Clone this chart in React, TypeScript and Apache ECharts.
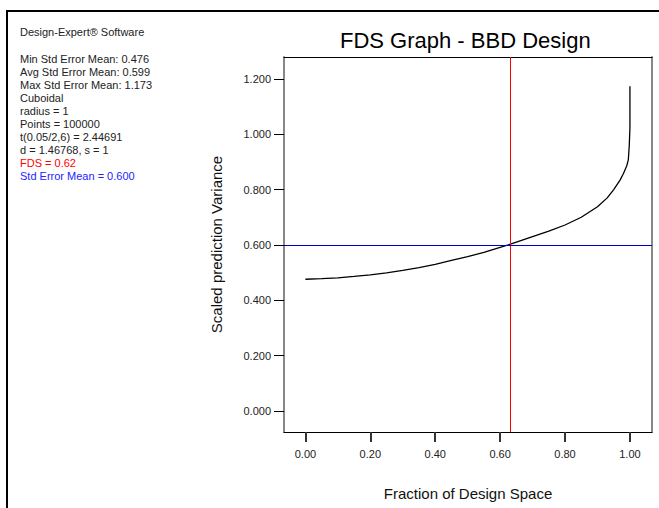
import React, { useEffect, useRef } from "react";
import * as echarts from "echarts";

const FONT = "'Liberation Sans', Arial, sans-serif";

const titleText = "FDS Graph - BBD Design";
const xAxisName = "Fraction of Design Space";
const yAxisName = "Scaled prediction Variance";

const xTicks = [0, 0.2, 0.4, 0.6, 0.8, 1.0];
const yTicks = [0, 0.2, 0.4, 0.6, 0.8, 1.0, 1.2];

const fractionValues = [
  0, 0.05, 0.1, 0.15, 0.2, 0.25, 0.3, 0.35, 0.4, 0.45, 0.5, 0.55, 0.6, 0.625,
  0.65, 0.7, 0.75, 0.8, 0.85, 0.9, 0.93, 0.95, 0.97, 0.98, 0.99, 0.995, 0.998,
  1.0, 1.0,
];
const varianceValues = [
  0.476, 0.478, 0.481, 0.486, 0.492, 0.499, 0.508, 0.518, 0.53, 0.544, 0.558,
  0.573, 0.591, 0.6, 0.61, 0.63, 0.65, 0.672, 0.7, 0.738, 0.77, 0.8, 0.835,
  0.858, 0.885, 0.907, 0.96, 1.023, 1.173,
];

const fdsValue = 0.625;
const stdErrorMean = 0.6;

const infoLines = [
  { text: "Design-Expert® Software", color: "#222222", gapBefore: 0 },
  { text: "Min Std Error Mean: 0.476", color: "#222222", gapBefore: 1 },
  { text: "Avg Std Error Mean: 0.599", color: "#222222", gapBefore: 0 },
  { text: "Max Std Error Mean: 1.173", color: "#222222", gapBefore: 0 },
  { text: "Cuboidal", color: "#222222", gapBefore: 0 },
  { text: "radius = 1", color: "#222222", gapBefore: 0 },
  { text: "Points = 100000", color: "#222222", gapBefore: 0 },
  { text: "t(0.05/2,6) = 2.44691", color: "#222222", gapBefore: 0 },
  { text: "d = 1.46768, s = 1", color: "#222222", gapBefore: 0 },
  { text: "FDS = 0.62", color: "#ff0000", gapBefore: 0 },
  { text: "Std Error Mean = 0.600", color: "#2424ff", gapBefore: 0 },
];

export default function App() {
  const ref = useRef<HTMLDivElement>(null);

  useEffect(() => {
    if (!ref.current) return;
    const chart = echarts.init(ref.current, undefined, { renderer: "svg" });

    const graphics: any[] = [];
    let y = 31.5;
    infoLines.forEach((l, i) => {
      if (i > 0) y += 13 + l.gapBefore * 14;
      graphics.push({
        type: "text",
        x: 20,
        y,
        silent: true,
        style: {
          text: l.text,
          fill: l.color,
          font: `11px ${FONT}`,
          textVerticalAlign: "middle",
        },
      });
    });
    graphics.push({
      type: "polyline",
      silent: true,
      shape: { points: [[7, 508], [7, 11], [659, 11]] },
      style: { stroke: "#000", lineWidth: 2, fill: "none" },
    });

    const data = fractionValues.map((x, i) => [x, varianceValues[i]]);

    chart.setOption({
      animation: false,
      backgroundColor: "#ffffff",
      title: {
        text: titleText,
        left: 340,
        top: 29,
        padding: 0,
        textStyle: {
          fontSize: 22,
          fontWeight: "normal",
          fontFamily: FONT,
          color: "#000",
        },
      },
      graphic: graphics,
      grid: { left: 284, top: 57, width: 368, height: 375, containLabel: false },
      xAxis: [
        {
          type: "value",
          min: -0.066,
          max: 1.068,
          position: "bottom",
          name: xAxisName,
          nameLocation: "middle",
          nameGap: 54,
          nameTextStyle: { fontSize: 15, fontFamily: FONT, color: "#111" },
          axisLine: { onZero: false, lineStyle: { color: "#000", width: 1 } },
          axisTick: {
            show: true,
            customValues: xTicks,
            length: 10,
            lineStyle: { color: "#333", width: 2 },
          },
          axisLabel: {
            customValues: xTicks,
            formatter: (v: number) => v.toFixed(2),
            margin: 16,
            fontSize: 11,
            fontFamily: FONT,
            color: "#222",
          },
          splitLine: { show: false },
        },
        {
          type: "value",
          min: -0.066,
          max: 1.068,
          position: "top",
          axisLine: { onZero: false, lineStyle: { color: "#000", width: 1 } },
          axisTick: { show: false },
          axisLabel: { show: false },
          splitLine: { show: false },
        },
      ],
      yAxis: [
        {
          type: "value",
          min: -0.076,
          max: 1.279,
          position: "left",
          name: yAxisName,
          nameLocation: "middle",
          nameGap: 60,
          nameTextStyle: { fontSize: 15, fontFamily: FONT, color: "#111" },
          axisLine: { show: true, onZero: false, lineStyle: { color: "#888", width: 2 } },
          axisTick: {
            show: true,
            customValues: yTicks,
            length: 10,
            lineStyle: { color: "#000", width: 1 },
          },
          axisLabel: {
            customValues: yTicks,
            formatter: (v: number) => v.toFixed(3),
            margin: 13,
            fontSize: 11,
            fontFamily: FONT,
            color: "#222",
          },
          splitLine: { show: false },
        },
        {
          type: "value",
          min: -0.076,
          max: 1.279,
          position: "right",
          axisLine: { show: true, onZero: false, lineStyle: { color: "#888", width: 2 } },
          axisTick: { show: false },
          axisLabel: { show: false },
          splitLine: { show: false },
        },
      ],
      series: [
        {
          type: "line",
          data,
          showSymbol: false,
          smooth: false,
          silent: true,
          lineStyle: { color: "#000", width: 1.3 },
          markLine: {
            silent: true,
            symbol: "none",
            label: { show: false },
            data: [
              { xAxis: fdsValue, lineStyle: { color: "#ff0000", width: 1, type: "solid" } },
              { yAxis: stdErrorMean, lineStyle: { color: "#0000cc", width: 1, type: "solid" } },
            ],
          },
        },
      ],
    });

    return () => chart.dispose();
  }, []);

  return (
    <div
      ref={ref}
      style={{ position: "absolute", left: 0, top: 0, width: 659, height: 508 }}
    />
  );
}
